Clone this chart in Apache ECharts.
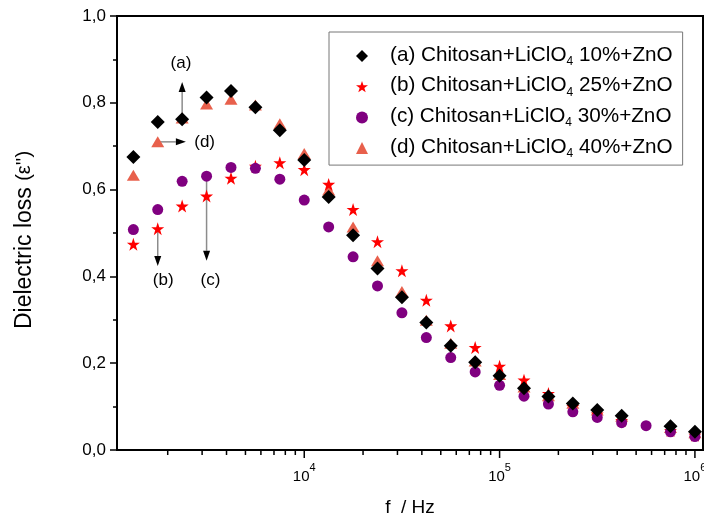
<!DOCTYPE html>
<html><head><meta charset="utf-8">
<script src="https://cdn.jsdelivr.net/npm/echarts@6/dist/echarts.min.js"></script>
<style>html,body{margin:0;padding:0;background:#fff}#c{width:704px;height:521px}</style>
</head><body><div id="c"></div>
<script>
// ---- data ----
const freqs = [1334, 1778, 2371, 3162, 4217, 5623, 7499, 10000, 13335, 17783, 23714, 31623,
  42170, 56234, 74989, 100000, 133352, 177828, 237137, 316228, 421697, 562341, 749894, 1000000];
const seriesA = [0.675, 0.756, 0.762, 0.812, 0.827, 0.790, 0.737, 0.668, 0.583, 0.495, 0.418, 0.352,
  0.294, 0.240, 0.202, 0.171, 0.142, 0.123, 0.107, 0.092, 0.079, null, 0.055, 0.042];
const seriesB = [0.474, 0.510, 0.562, 0.585, 0.626, 0.654, 0.662, 0.646, 0.612, 0.554, 0.480, 0.413,
  0.345, 0.286, 0.236, 0.193, 0.161, 0.130, 0.100, 0.083, 0.068, null, 0.045, 0.034];
const seriesC = [0.508, 0.554, 0.619, 0.631, 0.651, 0.649, 0.624, 0.576, 0.514, 0.445, 0.378, 0.316,
  0.259, 0.213, 0.180, 0.149, 0.124, 0.106, 0.088, 0.075, 0.063, 0.056, 0.042, 0.031];
const seriesD = [0.633, 0.710, 0.765, 0.797, 0.808, 0.795, 0.752, 0.683, 0.599, 0.514, 0.436, 0.365,
  0.299, 0.246, 0.205, 0.174, 0.145, 0.125, 0.108, 0.092, 0.078, null, 0.052, 0.040];
const seriesTags = ['(a)', '(b)', '(c)', '(d)'];
const percents = ['10%', '25%', '30%', '40%'];
const xMin = 1100, xMax = 1100000;
const xMajorTicks = [10000, 100000, 1000000];
const xMinorTicks = [2000, 3000, 4000, 5000, 6000, 7000, 8000, 9000,
  20000, 30000, 40000, 50000, 60000, 70000, 80000, 90000,
  200000, 300000, 400000, 500000, 600000, 700000, 800000, 900000];
// annotations (data coordinates)
const annoFrom = [[2371, 0.762], [1778, 0.710], [1778, 0.510], [3162, 0.631]];
const annoTo = [[2371, 0.848], [2477, 0.710], [1778, 0.424], [3162, 0.436]];
const annoText = ['(a)', '(d)', '(b)', '(c)'];
const annoTextPos = [[2338, 0.890], [3090, 0.710], [1897, 0.391], [3311, 0.391]];

const FONT = 'Liberation Sans, Arial, sans-serif';
const STAR = 'path://M50,0 L61.8,35.1 L98.9,35.1 L69,56.8 L80.3,91.9 L50,70.3 L19.7,91.9 L31,56.8 L1.1,35.1 L38.2,35.1 Z';
const names = seriesTags.map((t, i) => t + ' Chitosan+LiClO4 ' + percents[i] + '+ZnO');
function pairs(vals) { return freqs.map((f, i) => vals[i] == null ? null : [f, vals[i]]).filter(Boolean); }

const chart = echarts.init(document.getElementById('c'), null, {renderer: 'canvas'});
const option = {
  backgroundColor: '#fff',
  animation: false,
  grid: {left: 117, right: 1, top: 16, bottom: 71, outerBoundsMode: 'none', containLabel: false,
    show: true, borderColor: '#000', borderWidth: 2, backgroundColor: 'transparent'},
  legend: {
    orient: 'vertical', left: 329, top: 32,
    data: names,
    itemWidth: 12, itemHeight: 12, itemGap: 7.7,
    padding: [12.5, 10, 5.5, 27],
    borderColor: '#777', borderWidth: 1,
    textStyle: {color: '#000', fontFamily: FONT,
      rich: {
        g: {width: 17, height: 23},
        m: {fontSize: 20.7, lineHeight: 20, verticalAlign: 'top', fontFamily: FONT, color: '#000'},
        sub: {fontSize: 12, lineHeight: 12, verticalAlign: 'bottom', fontFamily: FONT, color: '#000'}
      }},
    formatter: function (n) {
      const parts = n.split('LiClO4');
      return '{g|}{m|' + parts[0] + 'LiClO}{sub|4}{m|' + parts[1] + '}';
    }
  },
  xAxis: {
    type: 'log', logBase: 10, min: xMin, max: xMax,
    name: 'f  / Hz', nameLocation: 'middle', nameGap: 48,
    nameTextStyle: {fontSize: 19, fontFamily: FONT, color: '#000'},
    axisLine: {show: true, lineStyle: {color: '#000', width: 2}},
    axisTick: {show: false},
    axisLabel: {customValues: xMajorTicks, margin: 12, color: '#000',
      formatter: function (v) { return '{b|10}{s|' + Math.round(Math.log10(v)) + '}'; },
      rich: {b: {fontSize: 15, lineHeight: 22, verticalAlign: 'bottom', fontFamily: FONT, color: '#000'},
             s: {fontSize: 11, lineHeight: 8, verticalAlign: 'top', fontFamily: FONT, color: '#000'}}},
    splitLine: {show: false}, minorSplitLine: {show: false}
  },
  yAxis: {
    type: 'value', min: 0, max: 1, interval: 0.2,
    name: '{a|Dielectric loss }{b|(ε\'\')}', nameLocation: 'middle', nameGap: 81, nameRotate: 90,
    nameTextStyle: {padding: [0, 14, 0, 0], rich: {
      a: {fontSize: 23, fontFamily: FONT, color: '#000'},
      b: {fontSize: 20, fontFamily: FONT, color: '#000'}}},
    axisLine: {show: true, lineStyle: {color: '#000', width: 2}},
    axisTick: {show: true, length: 7, lineStyle: {color: '#000', width: 1.5}},
    minorTick: {show: true, splitNumber: 2, length: 4, lineStyle: {color: '#000', width: 1.5}},
    axisLabel: {fontSize: 17, fontFamily: FONT, color: '#000', margin: 11,
      formatter: function (v) { return v.toFixed(1).replace('.', ','); }},
    splitLine: {show: false}
  },
  series: [
    {name: names[3], type: 'scatter', data: pairs(seriesD), symbol: 'triangle', symbolSize: [13, 11], itemStyle: {color: '#E8604C', opacity: 1}, z: 2},
    {name: names[1], type: 'scatter', data: pairs(seriesB), symbol: STAR, symbolSize: 13, itemStyle: {color: '#FF0000', opacity: 1}, z: 3},
    {name: names[2], type: 'scatter', data: pairs(seriesC), symbol: 'circle', symbolSize: 11, itemStyle: {color: '#800080', opacity: 1}, z: 4},
    {name: names[0], type: 'scatter', data: pairs(seriesA), symbol: 'diamond', symbolSize: 14, itemStyle: {color: '#000', opacity: 1}, z: 5}
  ]
};
chart.setOption(option);

function buildExtras() {
  const g = [];
  const ref = {xAxisIndex: 0, yAxisIndex: 0};
  // x-axis log ticks, positioned through the log axis scale
  function addTicks(vals, len) {
    vals.forEach(function (v) {
      const p = chart.convertToPixel(ref, [v, 0]);
      g.push({type: 'line', shape: {x1: p[0], y1: p[1], x2: p[0], y2: p[1] + len}, style: {stroke: '#000', lineWidth: 1.5}});
    });
  }
  addTicks(xMajorTicks, 8);
  addTicks(xMinorTicks, 5);
  annoFrom.forEach(function (p, i) {
    const a = chart.convertToPixel(ref, p);
    const b = chart.convertToPixel(ref, annoTo[i]);
    const dx = b[0] - a[0], dy = b[1] - a[1];
    const L = Math.hypot(dx, dy), ux = dx / L, uy = dy / L;
    const head = 10, hw = 3.5;
    const base = [b[0] - ux * head, b[1] - uy * head];
    g.push({type: 'line', shape: {x1: a[0], y1: a[1], x2: base[0], y2: base[1]}, style: {stroke: '#8c8c8c', lineWidth: 1.5}});
    g.push({type: 'polygon', shape: {points: [b, [base[0] - uy * hw, base[1] + ux * hw], [base[0] + uy * hw, base[1] - ux * hw]]}, style: {fill: '#000'}});
    const t = chart.convertToPixel(ref, annoTextPos[i]);
    g.push({type: 'text', x: t[0], y: t[1], style: {text: annoText[i], fontSize: 17, fontFamily: FONT, fill: '#000', align: 'center', verticalAlign: 'middle'}});
  });
  chart.setOption({graphic: g});
}
buildExtras();
</script>
</body></html>
